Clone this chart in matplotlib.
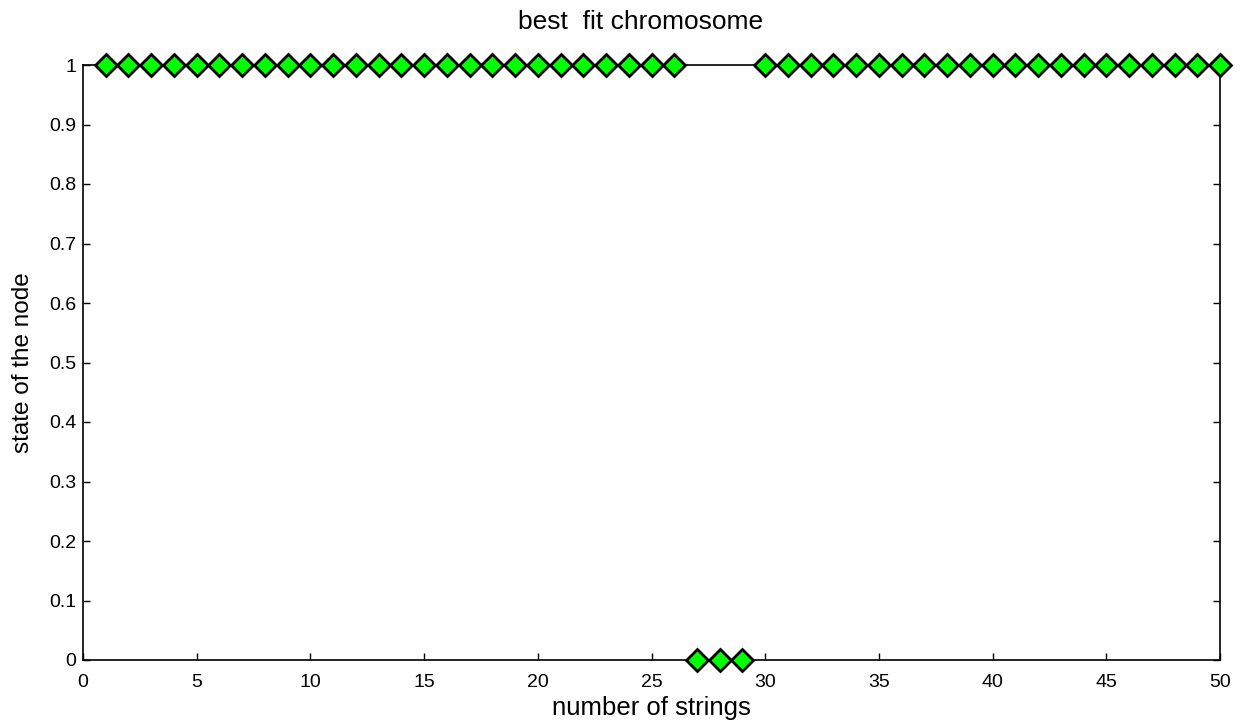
import numpy as np
import matplotlib
matplotlib.use("Agg")
import matplotlib.pyplot as plt

plt.rcParams['font.family'] = ['Liberation Sans', 'DejaVu Sans']

# best chromosome: string index -> node state
string_idx = np.arange(1, 51)
node_state = np.ones(50)
node_state[[26, 27, 28]] = 0   # strings 27, 28, 29 are off

x_ticks = [0, 5, 10, 15, 20, 25, 30, 35, 40, 45, 50]
y_ticks = [0, 0.1, 0.2, 0.3, 0.4, 0.5, 0.6, 0.7, 0.8, 0.9, 1]
y_labels = ["0", "0.1", "0.2", "0.3", "0.4", "0.5", "0.6", "0.7", "0.8", "0.9", "1"]

fig = plt.figure(figsize=(12.47, 7.28), dpi=100)
ax = fig.add_axes([83/1247, 1 - 660/728, (1220-83)/1247, (660-65)/728])

ax.plot(string_idx, node_state, linestyle='none', marker='D', markersize=11.5,
        markerfacecolor=(0, 1, 0), markeredgecolor='black', markeredgewidth=2.0,
        clip_on=False, zorder=5)

ax.set_xlim(0, 50)
ax.set_ylim(0, 1)
ax.set_xticks(x_ticks)
ax.set_xticklabels([str(t) for t in x_ticks])
ax.set_yticks(y_ticks)
ax.set_yticklabels(y_labels)
ax.tick_params(direction='in', length=5, width=1, labelsize=14,
               top=False, right=True)
ax.tick_params(axis='x', pad=10)
ax.tick_params(axis='y', pad=5)
for s in ax.spines.values():
    s.set_linewidth(1.2)

ax.set_title("best  fit chromosome", fontsize=19, pad=26)
ax.title.set_x(0.49)
ax.set_xlabel("number of strings", fontsize=18.5, labelpad=4)
ax.set_ylabel("state of the node", fontsize=17.5, labelpad=11)

fig.savefig("out.png", dpi=100)
